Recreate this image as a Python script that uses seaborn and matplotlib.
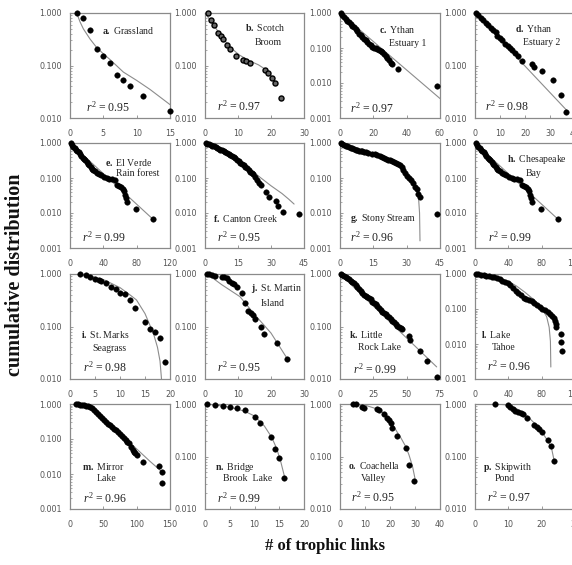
import matplotlib
matplotlib.use("Agg")
import matplotlib.pyplot as plt
import matplotlib.ticker as mticker
import seaborn as sns

# ---------------- data ----------------
a_x = [1, 2, 3, 4, 5, 6, 7, 8, 9, 11, 15]
a_y = [1.0, 0.80, 0.47, 0.21, 0.15, 0.11, 0.067, 0.054, 0.040, 0.026, 0.0133]
a_fit_x = [1, 1.5, 2, 3, 4, 5, 6, 8, 10, 12, 15]
a_fit_y = [1.0, 0.68, 0.50, 0.32, 0.22, 0.167, 0.13, 0.075, 0.052, 0.035, 0.018]

b_x = [0.8, 1.9, 2.8, 4.0, 4.9, 5.6, 6.8, 7.7, 9.5, 11.6, 12.5, 13.5, 18.1, 19.1, 20.3, 21.2, 23.1]
b_y = [1.0, 0.75, 0.58, 0.42, 0.36, 0.32, 0.25, 0.205, 0.155, 0.13, 0.121, 0.111, 0.083, 0.071, 0.059, 0.047, 0.024]
b_fit_x = [0, 1, 2, 3.4, 5, 7.4, 10.3, 13.2, 16.2, 18.1, 20.1, 21.6]
b_fit_y = [1.0, 0.82, 0.66, 0.50, 0.36, 0.23, 0.16, 0.125, 0.103, 0.086, 0.064, 0.046]

c_x = [0.4, 1.4, 2.4, 3.4, 4.4, 5.4, 6.4, 7.4, 8.4, 9.4, 10.4, 11.4, 12.4, 13.4, 14.4, 15.4, 16.4,
       17.4, 18.4, 19.4, 20.4, 21.4, 22.4, 23.4, 24.4, 25.4, 26.4, 27.4, 28.4, 29.4, 30.4, 31.4, 35, 58]
c_y = [1.0, 0.857, 0.768, 0.673, 0.590, 0.540, 0.473, 0.434, 0.397, 0.348, 0.305, 0.256, 0.234, 0.205,
       0.180, 0.165, 0.144, 0.132, 0.121, 0.106, 0.099, 0.097, 0.093, 0.089, 0.081, 0.075, 0.068, 0.060,
       0.052, 0.044, 0.037, 0.034, 0.025, 0.008]
c_fit_x = [0, 60]
c_fit_y = [1.0, 0.0036]

d_x = [0.3, 1.3, 2.4, 3.3, 4.3, 5.3, 6.3, 7.3, 8.3, 8.9, 10, 10.9, 12, 13, 14, 14.9, 16, 17.3, 18.7,
       22.7, 23.7, 26.7, 31.3, 34.4, 36.4]
d_y = [1.0, 0.90, 0.81, 0.72, 0.64, 0.58, 0.52, 0.47, 0.43, 0.36, 0.34, 0.30, 0.26, 0.24, 0.22, 0.20,
       0.17, 0.15, 0.12, 0.107, 0.093, 0.08, 0.052, 0.027, 0.013]
d_fit_x = [0, 37]
d_fit_y = [1.0, 0.0135]

e_x = [0.8, 2.4, 4, 5.6, 7.2, 8.8, 10.4, 12, 13.6, 15.2, 16.8, 18.4, 20, 21.6, 23.2, 24.8, 26.4, 28,
       30.4, 32.8, 35.2, 37.6, 40.8, 44, 47.2, 50.4, 53.6, 56, 58.4, 60.8, 63.2, 64.8, 66.4, 67.2, 68, 79, 99]
e_y = [1.0, 0.877, 0.77, 0.706, 0.647, 0.593, 0.544, 0.498, 0.437, 0.383, 0.352, 0.322, 0.283, 0.248,
       0.228, 0.209, 0.183, 0.168, 0.154, 0.141, 0.129, 0.118, 0.108, 0.101, 0.095, 0.091, 0.087, 0.063,
       0.059, 0.054, 0.050, 0.042, 0.032, 0.026, 0.021, 0.0128, 0.0066]
e_fit_x = [0, 100]
e_fit_y = [1.0, 0.0065]

f_x = [0.3, 1.0, 1.8, 2.5, 3.3, 4.0, 4.8, 5.5, 6.3, 7.0, 7.8, 8.5, 9.3, 10.0, 10.8, 11.5, 12.3, 13.0,
       13.8, 14.5, 15.3, 16.0, 16.8, 17.5, 18.3, 19.0, 19.8, 20.5, 21.3, 22.0, 22.8, 23.7, 24.7, 25.6,
       27.7, 28.9, 32.2, 33.4, 35.5, 42.7]
f_y = [1.0, 0.957, 0.917, 0.878, 0.840, 0.804, 0.770, 0.737, 0.690, 0.647, 0.619, 0.593, 0.567, 0.532,
       0.498, 0.467, 0.437, 0.401, 0.367, 0.337, 0.302, 0.271, 0.249, 0.228, 0.209, 0.187, 0.168, 0.150,
       0.141, 0.126, 0.108, 0.087, 0.070, 0.063, 0.041, 0.029, 0.022, 0.016, 0.011, 0.0095]
f_fit_x = [0, 5, 10, 15, 20, 25, 30, 35, 38, 40.5]
f_fit_y = [1.0, 0.78, 0.56, 0.34, 0.19, 0.105, 0.06, 0.036, 0.025, 0.018]

g_x = [0.3, 1.0, 1.8, 2.5, 3.3, 4.0, 4.8, 5.5, 6.3, 7.0, 7.8, 8.5, 9.3, 10.0, 10.8, 11.5, 12.7, 14.5,
       15.7, 16.8, 17.8, 18.7, 19.6, 20.5, 21.4, 22.3, 23.2, 24.1, 25.0, 25.9, 26.8, 27.7, 28.5, 29.2,
       30.1, 31.0, 31.9, 33.0, 33.7, 34.5, 35.2, 35.8, 43.5]
g_y = [1.0, 0.937, 0.878, 0.840, 0.804, 0.770, 0.737, 0.706, 0.676, 0.647, 0.619, 0.606, 0.593, 0.580,
       0.567, 0.555, 0.532, 0.498, 0.477, 0.456, 0.428, 0.401, 0.375, 0.351, 0.337, 0.322, 0.309, 0.289,
       0.270, 0.248, 0.228, 0.200, 0.168, 0.135, 0.113, 0.099, 0.087, 0.073, 0.056, 0.048, 0.035, 0.028,
       0.0093]
g_fit_x = [0, 8, 16, 22, 27, 31, 34, 35.3, 35.8, 36]
g_fit_y = [1.0, 0.66, 0.46, 0.33, 0.21, 0.12, 0.06, 0.03, 0.01, 0.0016]

h_x = [0.8, 2.4, 4, 5.6, 7.2, 8.8, 10.4, 12, 13.6, 15.2, 16.8, 18.4, 20, 21.6, 23.2, 24.8, 26.4, 28,
       30.4, 32.8, 35.2, 37.6, 40.8, 44, 47.2, 50.4, 53.6, 56, 58.4, 60.8, 63.2, 64.8, 66.4, 67.2, 68, 79, 99]
h_y = [1.0, 0.877, 0.77, 0.706, 0.647, 0.593, 0.544, 0.498, 0.437, 0.383, 0.352, 0.322, 0.283, 0.248,
       0.228, 0.209, 0.183, 0.168, 0.154, 0.141, 0.129, 0.118, 0.108, 0.101, 0.095, 0.091, 0.087, 0.063,
       0.059, 0.054, 0.050, 0.042, 0.032, 0.026, 0.021, 0.0128, 0.0066]
h_fit_x = [0, 100]
h_fit_y = [1.0, 0.0065]

i_x = [2.0, 3.1, 4.0, 5.0, 5.8, 6.2, 7.2, 8.1, 9.1, 10.0, 11.0, 12.0, 13.0, 15.0, 16.0, 17.0, 18.0, 19.0]
i_y = [1.0, 0.943, 0.889, 0.790, 0.77, 0.75, 0.682, 0.577, 0.512, 0.426, 0.407, 0.318, 0.229, 0.122,
       0.091, 0.079, 0.061, 0.021]
i_fit_x = [1, 4, 7, 10, 12, 13.3, 15, 16.7, 17.5, 18, 18.3]
i_fit_y = [1.0, 0.92, 0.76, 0.55, 0.40, 0.32, 0.176, 0.073, 0.04, 0.022, 0.01]

j_x = [0.7, 1.3, 2.1, 3.0, 5.1, 5.8, 6.6, 7.4, 8.1, 8.9, 9.6, 11.1, 12.1, 13.1, 13.8, 14.4, 15.2, 17.0,
       18.0, 21.9, 24.9]
j_y = [1.0, 0.98, 0.957, 0.929, 0.889, 0.863, 0.826, 0.745, 0.682, 0.643, 0.572, 0.426, 0.282, 0.198,
       0.182, 0.164, 0.141, 0.098, 0.073, 0.048, 0.024]
j_fit_x = [0.7, 5, 10.6, 15, 20, 25]
j_fit_y = [1.0, 0.63, 0.37, 0.17, 0.075, 0.024]

k_x = [0.5, 1.75, 3.0, 4.25, 5.5, 6.75, 8.0, 9.25, 10.5, 11.75, 13.0, 14.25, 15.5, 16.75, 18.0, 19.25,
       20.5, 21.75, 23.0, 24.25, 25.5, 26.75, 28.0, 29.25, 30.5, 31.75, 33.0, 34.25, 35.5, 36.75, 38.0,
       39.25, 40.5, 41.75, 43.0, 44.25, 45.5, 46.75, 51.5, 52.5, 60.0, 65.0, 72.5]
k_y = [1.0, 0.971, 0.929, 0.889, 0.838, 0.790, 0.745, 0.703, 0.662, 0.607, 0.555, 0.508, 0.465, 0.439,
       0.402, 0.379, 0.368, 0.347, 0.327, 0.299, 0.282, 0.266, 0.251, 0.230, 0.210, 0.193, 0.182, 0.171,
       0.161, 0.152, 0.139, 0.127, 0.120, 0.113, 0.104, 0.098, 0.092, 0.089, 0.065, 0.055, 0.034, 0.022,
       0.0108]
k_fit_x = [0, 72.5]
k_fit_y = [1.0, 0.017]

l_x = [0.8, 4, 7.2, 10.4, 13.6, 16.8, 20, 23.2, 26.4, 29.6, 32.8, 36, 39.2, 42.4, 45.6, 48.8, 52, 55.2,
       58.4, 61.6, 64.8, 68, 71.2, 74.4, 77.6, 80.8, 84, 87.2, 89.6, 92, 94.4, 96, 96.8, 97.6, 103.2,
       103.4, 104]
l_y = [1.0, 0.978, 0.957, 0.936, 0.896, 0.876, 0.838, 0.802, 0.750, 0.702, 0.643, 0.589, 0.539, 0.472,
       0.396, 0.331, 0.278, 0.244, 0.213, 0.195, 0.179, 0.164, 0.150, 0.131, 0.115, 0.101, 0.092, 0.081,
       0.071, 0.062, 0.054, 0.045, 0.038, 0.031, 0.019, 0.0113, 0.0062]
l_fit_x = [0, 20, 40, 50, 60, 70, 80, 86, 89, 90.5, 91]
l_fit_y = [1.0, 0.9, 0.62, 0.45, 0.30, 0.19, 0.11, 0.06, 0.03, 0.012, 0.0022]

m_x = [9, 12, 15, 18, 21, 24, 27, 30, 33, 36, 39, 42, 45, 48, 51, 54, 57, 60, 63, 66, 69, 72, 75, 78,
       81, 84, 86, 88, 92, 94, 96, 98, 100, 109, 134, 137.5, 138.5]
m_y = [1.0, 0.978, 0.957, 0.936, 0.916, 0.896, 0.858, 0.838, 0.752, 0.659, 0.578, 0.506, 0.454, 0.407,
       0.357, 0.313, 0.274, 0.246, 0.220, 0.197, 0.177, 0.162, 0.142, 0.125, 0.109, 0.096, 0.084, 0.075,
       0.060, 0.048, 0.043, 0.039, 0.035, 0.0225, 0.0173, 0.0112, 0.0057]
m_fit_x = [8, 20, 30, 38, 45, 60, 80, 100, 120, 138]
m_fit_y = [1.0, 0.97, 0.85, 0.62, 0.47, 0.257, 0.116, 0.052, 0.023, 0.0115]

n_x = [0.5, 2.0, 3.6, 5.05, 6.5, 8.1, 10.1, 11.1, 13.3, 14.1, 15.0, 16.0]
n_y = [1.0, 0.957, 0.903, 0.864, 0.827, 0.768, 0.557, 0.428, 0.232, 0.139, 0.095, 0.039]
n_fit_x = [0.5, 3, 5, 8, 10, 12, 13.5, 14.5, 15.3, 16.1]
n_fit_y = [1.0, 0.93, 0.87, 0.73, 0.59, 0.38, 0.23, 0.14, 0.08, 0.04]

o_x = [5.3, 6.3, 8.7, 9.7, 14.7, 15.7, 17.6, 18.7, 19.6, 20.4, 20.9, 22.7, 26.3, 27.6, 29.7]
o_y = [1.0, 0.986, 0.864, 0.827, 0.803, 0.768, 0.636, 0.533, 0.496, 0.428, 0.354, 0.246, 0.143, 0.069, 0.034]
o_fit_x = [5, 10, 15, 18, 20, 22.7, 24.5, 26.3, 27.6, 29, 30]
o_fit_y = [1.0, 0.95, 0.80, 0.65, 0.50, 0.30, 0.22, 0.154, 0.107, 0.065, 0.038]

p_x = [6.0, 9.8, 10.5, 11.3, 12.0, 13.0, 13.8, 14.5, 15.5, 17.8, 18.5, 19.2, 20.0, 21.8, 22.8, 23.7]
p_y = [1.0, 0.957, 0.890, 0.803, 0.746, 0.714, 0.664, 0.636, 0.549, 0.398, 0.359, 0.329, 0.297, 0.206,
       0.161, 0.082]
p_fit_x = [6, 9, 12, 15, 18, 20, 22, 23, 23.8]
p_fit_y = [1.0, 0.97, 0.85, 0.65, 0.42, 0.30, 0.19, 0.14, 0.08]

letters = ["a", "b", "c", "d", "e", "f", "g", "h", "i", "j", "k", "l", "m", "n", "o", "p"]
names = [["Grassland"], ["Scotch", "Broom"], ["Ythan", "Estuary 1"], ["Ythan", "Estuary 2"],
         ["El Verde", "Rain forest"], ["Canton Creek"], ["Stony Stream"], ["Chesapeake", "Bay"],
         ["St. Marks", "Seagrass"], ["St. Martin", "Island"], ["Little", "Rock Lake"], ["Lake", "Tahoe"],
         ["Mirror", "Lake"], ["Bridge", "Brook  Lake"], ["Coachella", "Valley"], ["Skipwith", "Pond"]]
r2_values = ["0.95", "0.97", "0.97", "0.98", "0.99", "0.95", "0.96", "0.99",
             "0.98", "0.95", "0.99", "0.96", "0.96", "0.99", "0.95", "0.97"]
x_max = [15, 30, 60, 40, 120, 45, 45, 120, 20, 30, 75, 120, 150, 20, 40, 30]
y_min = [0.01, 0.01, 0.001, 0.01, 0.001, 0.001, 0.001, 0.001,
         0.01, 0.01, 0.01, 0.001, 0.001, 0.01, 0.01, 0.01]
x_ticks = [[0, 5, 10, 15], [0, 10, 20, 30], [0, 20, 40, 60], [0, 10, 20, 30, 40],
           [0, 40, 80, 120], [0, 15, 30, 45], [0, 15, 30, 45], [0, 40, 80, 120],
           [0, 5, 10, 15, 20], [0, 10, 20, 30], [0, 25, 50, 75], [0, 40, 80, 120],
           [0, 50, 100, 150], [0, 5, 10, 15, 20], [0, 10, 20, 30, 40], [0, 10, 20, 30]]
y_tick_values = [1.0, 0.1, 0.01, 0.001]

# ---------------- layout / style ----------------
sns.set_style("ticks")
plt.rcParams["font.family"] = ["DejaVu Sans"]
plt.rcParams["mathtext.fontset"] = "custom"
plt.rcParams["mathtext.rm"] = "Liberation Serif"
plt.rcParams["mathtext.it"] = "Liberation Serif:italic"
plt.rcParams["mathtext.bf"] = "Liberation Serif:bold"

W, H = 572, 565
fig = plt.figure(figsize=(W / 100, H / 100), dpi=100)

col_left = [70, 205, 340, 475]
col_width = [100, 99, 100, 100]
row_top = [13, 143, 274, 404]
panel_h = 105

label_pos = [
    [(0.32, 0.83)], [(0.40, 0.86), (0.50, 0.72)], [(0.39, 0.84), (0.49, 0.71)], [(0.40, 0.85), (0.48, 0.72)],
    [(0.35, 0.81), (0.46, 0.71)], [(0.08, 0.28)], [(0.10, 0.28)], [(0.32, 0.84), (0.51, 0.71)],
    [(0.11, 0.42), (0.22, 0.29)], [(0.46, 0.86), (0.56, 0.72)], [(0.09, 0.42), (0.18, 0.30)], [(0.06, 0.42), (0.17, 0.30)],
    [(0.12, 0.40), (0.27, 0.29)], [(0.10, 0.40), (0.18, 0.29)], [(0.08, 0.41), (0.21, 0.29)], [(0.08, 0.40), (0.20, 0.29)],
]
r2_pos = [(0.16, 0.105), (0.12, 0.11), (0.10, 0.095), (0.10, 0.11),
          (0.12, 0.105), (0.12, 0.105), (0.10, 0.105), (0.13, 0.105),
          (0.13, 0.11), (0.12, 0.11), (0.13, 0.095), (0.12, 0.12),
          (0.13, 0.105), (0.12, 0.105), (0.11, 0.11), (0.12, 0.11)]

series = [(a_x, a_y, a_fit_x, a_fit_y), (b_x, b_y, b_fit_x, b_fit_y), (c_x, c_y, c_fit_x, c_fit_y),
          (d_x, d_y, d_fit_x, d_fit_y), (e_x, e_y, e_fit_x, e_fit_y), (f_x, f_y, f_fit_x, f_fit_y),
          (g_x, g_y, g_fit_x, g_fit_y), (h_x, h_y, h_fit_x, h_fit_y), (i_x, i_y, i_fit_x, i_fit_y),
          (j_x, j_y, j_fit_x, j_fit_y), (k_x, k_y, k_fit_x, k_fit_y), (l_x, l_y, l_fit_x, l_fit_y),
          (m_x, m_y, m_fit_x, m_fit_y), (n_x, n_y, n_fit_x, n_fit_y), (o_x, o_y, o_fit_x, o_fit_y),
          (p_x, p_y, p_fit_x, p_fit_y)]

spine_col = "#8a8a8a"
text_col = "#222222"
tick_col = "#555555"
serif = "Liberation Serif"

for idx, (px, py, fx, fy) in enumerate(series):
    r, c = divmod(idx, 4)
    L = col_left[c] / W
    B = 1 - (row_top[r] + panel_h) / H
    ax = fig.add_axes([L, B, col_width[c] / W, panel_h / H])

    sns.lineplot(x=fx, y=fy, ax=ax, color="#8c8c8c", lw=0.8, sort=False, estimator=None, zorder=2)
    if letters[idx] == "b":
        sns.scatterplot(x=px, y=py, ax=ax, s=13, color="#666666", edgecolor="black",
                        linewidth=1.0, clip_on=False, zorder=3)
    else:
        sns.scatterplot(x=px, y=py, ax=ax, s=16, color="black", edgecolor="black",
                        linewidth=0.3, clip_on=False, zorder=3)

    ax.set_yscale("log")
    ax.set_xlim(0, x_max[idx])
    ax.set_ylim(y_min[idx], 1.0)
    ax.set_xticks(x_ticks[idx])
    ax.set_xticklabels([str(t) for t in x_ticks[idx]])
    yt = [v for v in y_tick_values if v >= y_min[idx] * 0.999]
    ax.yaxis.set_major_locator(mticker.FixedLocator(yt))
    ax.yaxis.set_major_formatter(mticker.FixedFormatter(["%.3f" % v for v in yt]))
    ax.yaxis.set_minor_locator(mticker.LogLocator(base=10, subs=range(2, 10), numticks=20))
    ax.yaxis.set_minor_formatter(mticker.NullFormatter())
    ax.tick_params(axis="both", which="major", direction="in", length=2.5, width=0.6,
                   colors=spine_col, labelcolor=tick_col, labelsize=5.8, pad=6)
    ax.tick_params(axis="y", which="minor", direction="in", length=1.5, width=0.5, colors=spine_col)
    ax.tick_params(axis="x", which="major", pad=8)
    for s in ax.spines.values():
        s.set_visible(True)
        s.set_color(spine_col)
        s.set_linewidth(0.9)
    ax.set_xlabel("")
    ax.set_ylabel("")

    lines = names[idx]
    for li, (tx, ty) in enumerate(label_pos[idx]):
        if li == 0:
            s_txt = r"$\mathbf{%s.}$ %s" % (letters[idx], lines[0])
        else:
            s_txt = lines[li]
        ax.text(tx, ty, s_txt, transform=ax.transAxes, fontsize=7, family=serif,
                color=text_col, ha="left", va="center")
    ax.text(r2_pos[idx][0], r2_pos[idx][1], r"$r^2$ = " + r2_values[idx], transform=ax.transAxes,
            fontsize=8.5, family=serif, color=text_col, ha="left", va="center")

fig.text(15 / W, 1 - 275 / H, "cumulative distribution", rotation=90, ha="center", va="center",
         fontsize=14.5, fontweight="bold", family=serif, color="#111111")
fig.text(325 / W, 1 - 546 / H, "# of trophic links", ha="center", va="center",
         fontsize=12, fontweight="bold", family=serif, color="#111111")

fig.savefig("out.png", dpi=100)
